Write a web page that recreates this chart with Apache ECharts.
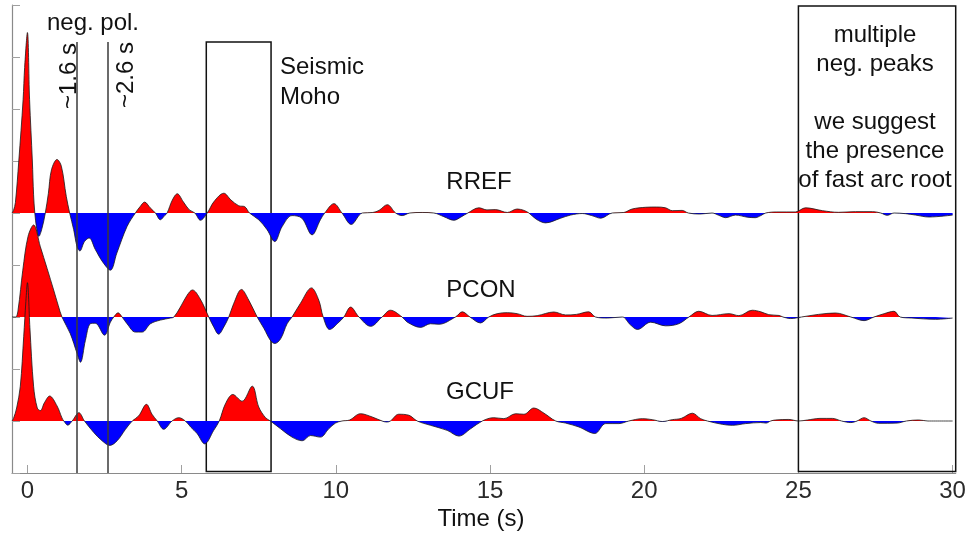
<!DOCTYPE html>
<html>
<head>
<meta charset="utf-8">
<title>Receiver functions RREF / PCON / GCUF</title>
<script src="https://cdn.jsdelivr.net/npm/echarts@6/dist/echarts.min.js"></script>
<style>
  html, body { margin: 0; padding: 0; background: #fff; }
  #chart { width: 969px; height: 535px; }
</style>
</head>
<body>
<div id="chart"></div>
<script>
// Station names, drawn top to bottom
const stations = ['RREF', 'PCON', 'GCUF'];

// Receiver function amplitudes: [time (s), amplitude]
const rref = [
  [-0.5,0],[-0.45,0.05],[-0.39,0.2],[-0.28,1.0],[-0.14,2.18],[-0.09,2.8],[0,3.47],[0.07,2.18],[0.16,1.0],[0.2,0.35],[0.24,0],
  [0.3,-0.3],[0.37,-0.45],[0.47,-0.3],[0.58,0],[0.68,0.38],[0.78,0.83],[0.96,1.03],[1.1,0.9],[1.26,0.32],[1.37,0],
  [1.5,-0.32],[1.61,-0.65],[1.7,-0.73],[1.85,-0.55],[2.0,-0.48],[2.2,-0.7],[2.45,-0.95],[2.69,-1.1],[2.9,-0.77],[3.23,-0.26],[3.5,0],
  [3.65,0.12],[3.8,0.21],[3.98,0.1],[4.15,0],[4.31,-0.13],[4.45,-0.05],[4.53,0],[4.7,0.25],[4.86,0.37],[5.05,0.22],[5.25,0.06],[5.43,0],
  [5.61,-0.14],[5.83,0],[6.05,0.22],[6.37,0.38],[6.6,0.25],[6.85,0.14],[7.05,0.12],[7.2,0],
  [7.5,-0.13],[7.77,-0.32],[8.02,-0.55],[8.26,-0.26],[8.58,-0.05],[8.9,-0.1],[9.23,-0.42],[9.5,-0.13],[9.64,0],
  [9.94,0.18],[10.2,0],[10.5,-0.22],[10.86,0],[11.2,0.01],[11.4,0.05],[11.67,0.16],[11.94,0],[12.15,-0.05],[12.4,0],[12.8,0.01],[13.18,0],
  [13.5,-0.07],[13.83,-0.14],[14.05,-0.08],[14.28,0],[14.64,0.1],[14.9,0.06],[15.18,0.065],[15.56,0.01],[15.88,0.077],[16.1,0.05],[16.26,0],
  [16.5,-0.12],[16.8,-0.19],[17.29,-0.1],[17.61,-0.04],[17.99,-0.01],[18.3,-0.05],[18.59,-0.1],[18.96,0],
  [19.34,0.01],[19.61,0.077],[20.05,0.11],[20.4,0.115],[20.69,0.1],[20.91,0.045],[21.23,0.05],[21.43,0],
  [21.8,-0.02],[22.2,0],[22.4,-0.04],[22.64,-0.09],[22.96,-0.04],[23.34,-0.08],[23.6,-0.09],[23.78,-0.05],[23.94,0],
  [24.3,0.02],[24.9,0.02],[25.23,0.1],[25.78,0.045],[26.3,0.013],[26.85,0.026],[27.4,0.026],[27.67,0],
  [27.88,-0.045],[28.1,0],[28.48,-0.013],[28.8,-0.04],[29.23,-0.077],[30.0,-0.04]
];
const pcon = [
  [-0.5,0],[-0.38,0],[-0.3,0.15],[-0.15,0.9],[0.02,1.55],[0.2,1.77],[0.42,1.35],[0.64,0.93],[0.85,0.52],[1.0,0.22],[1.12,0],
  [1.39,-0.32],[1.61,-0.7],[1.72,-0.87],[1.88,-0.45],[2.04,-0.13],[2.2,-0.12],[2.5,-0.35],[2.69,-0.1],[2.8,0],
  [2.94,0.08],[3.07,0],[3.23,-0.13],[3.5,-0.29],[3.72,-0.29],[3.99,-0.13],[4.31,-0.06],[4.64,-0.02],[4.75,0],
  [4.96,0.19],[5.18,0.42],[5.35,0.52],[5.6,0.35],[5.88,0],[6.04,-0.19],[6.2,-0.33],[6.37,-0.19],[6.53,0],
  [6.69,0.26],[6.94,0.53],[7.18,0.32],[7.45,0],[7.67,-0.22],[7.88,-0.45],[8.02,-0.51],[8.21,-0.42],[8.42,-0.13],[8.58,0],
  [8.85,0.26],[9.21,0.56],[9.45,0.32],[9.59,0],[9.8,-0.24],[10.1,-0.1],[10.26,0],[10.48,0.19],[10.75,0],[11.13,-0.18],[11.5,0],
  [11.77,0.13],[12.15,0],[12.32,-0.1],[12.75,-0.2],[13.07,-0.13],[13.34,-0.14],[13.88,0],[14.1,0.1],[14.35,0],[14.69,-0.115],[14.96,0],
  [15.23,0.064],[15.56,0.083],[15.88,0.064],[16.2,0.013],[16.53,0.026],[17.07,0.096],[17.45,0.04],[17.8,0.05],[18.2,0.1],[18.42,0],
  [18.8,-0.02],[19.29,0],[19.55,-0.15],[19.78,-0.24],[20.21,-0.1],[20.69,-0.17],[21.12,-0.13],[21.45,0],
  [21.77,0.11],[22.2,0.03],[22.75,0.064],[23.07,0.026],[23.5,0.13],[23.78,0.1],[24.04,0.045],[24.37,0.03],[24.5,0],
  [24.75,-0.03],[25.1,0],[25.65,0.05],[26.2,0.077],[26.7,0],[27.13,-0.07],[27.45,0],[27.78,0.064],[28.1,0.11],[28.3,0],
  [28.68,-0.02],[29.45,-0.045],[30.0,-0.02]
];
const gcuf = [
  [-0.5,0],[-0.45,0.05],[-0.35,0.25],[-0.23,0.67],[-0.12,1.63],[-0.05,2.3],[0,2.66],[0.08,1.8],[0.2,0.67],[0.32,0.25],[0.42,0.2],
  [0.55,0.35],[0.72,0.48],[0.96,0.29],[1.12,0.06],[1.18,0],[1.31,-0.08],[1.45,0],[1.67,0.16],[1.85,0],
  [2.15,-0.22],[2.42,-0.38],[2.67,-0.47],[2.91,-0.38],[3.18,-0.16],[3.4,0],[3.61,0.1],[3.86,0.32],[4.04,0.13],[4.21,0],
  [4.42,-0.16],[4.69,0],[4.91,0.064],[5.12,0],[5.3,-0.12],[5.5,-0.24],[5.75,-0.44],[6.04,-0.18],[6.22,0],
  [6.42,0.33],[6.66,0.51],[6.96,0.38],[7.29,0.67],[7.5,0.27],[7.72,0.064],[7.88,0],
  [8.21,-0.15],[8.58,-0.31],[8.91,-0.38],[9.18,-0.28],[9.5,-0.31],[9.77,-0.15],[9.99,-0.04],[10.2,0],
  [10.45,0.02],[10.8,0.14],[11.18,0.077],[11.5,0],[11.65,-0.02],[11.77,0],[12.04,0.13],[12.37,0.11],[12.64,0],
  [13.07,-0.083],[13.61,-0.18],[13.99,-0.29],[14.37,-0.15],[14.75,0],
  [15.12,0.064],[15.45,0.045],[15.83,0.14],[16.1,0.13],[16.42,0.25],[16.75,0.15],[17.13,0],
  [17.45,-0.04],[17.88,-0.115],[18.4,-0.24],[18.75,-0.05],[19.18,-0.05],[19.5,0],
  [19.94,0.045],[20.26,0.026],[20.59,-0.01],[20.91,0.026],[21.2,0.05],[21.56,0.15],[21.83,0.045],[22.05,0],
  [22.53,-0.064],[22.86,-0.083],[23.29,-0.05],[23.78,-0.03],[23.95,-0.04],[24.1,0],[24.26,0.02],[24.69,0.03],[25.0,0],
  [25.3,0.02],[25.7,0.05],[26.1,0.05],[26.4,0],[26.7,-0.03],[26.9,0],[27.13,0.064],[27.35,0],[27.6,-0.045],[28.2,-0.04],[28.5,0],
  [28.9,0.02],[29.2,0],[30.0,0]
];
const traces = [rref, pcon, gcuf];

// Time axis tick labels
const timeTicks = [0, 5, 10, 15, 20, 25, 30];

// Marked arrival times (s)
const polarityTimes = [1.6, 2.6];
// Highlighted windows: [start s, end s]
const mohoWindow = [5.8, 7.9];
const rootWindow = [25, 30.1];

// Vertical stacking of the traces (axis units)
const baselines = [5, 3, 1];
const Y_MAX = 9;

const RED = '#ff0000';
const BLUE = '#0000ff';
const FONT = '"Liberation Sans", Arial, sans-serif';

const chart = echarts.init(document.getElementById('chart'), null, { renderer: 'canvas' });

const traceSeries = traces.map((trace, i) => ({
  type: 'line',
  name: stations[i],
  data: trace.map(([t, a]) => [t, a + baselines[i]]),
  smooth: 0.35,
  showSymbol: false,
  silent: true,
  z: 3,
  lineStyle: { color: '#1a1a1a', width: 0.8 },
  areaStyle: { origin: baselines[i], opacity: 1 }
}));

const annotationSeries = {
  type: 'line',
  data: [],
  silent: true,
  z: 4,
  markLine: {
    silent: true,
    symbol: 'none',
    label: { show: false },
    lineStyle: { color: '#3a3a3a', type: 'solid', width: 1.5 },
    data: polarityTimes.map(t => [{ coord: [t, 0] }, { coord: [t, 8.29] }])
  },
  markArea: {
    silent: true,
    itemStyle: { color: 'rgba(0,0,0,0)', borderColor: '#111', borderWidth: 1.5 },
    data: [
      [{ coord: [mohoWindow[0], 0.03] }, { coord: [mohoWindow[1], 8.29] }],
      [{ coord: [rootWindow[0], 0.03] }, { coord: [rootWindow[1], 8.98] }]
    ]
  }
};

function txt(text, x, y, opts) {
  return Object.assign({
    type: 'text',
    x: x, y: y,
    silent: true,
    z: 10,
    style: Object.assign({
      text: text,
      fill: '#111',
      font: '24px ' + FONT,
      align: 'center',
      verticalAlign: 'middle'
    }, (opts && opts.style) || {})
  }, (opts && opts.el) || {});
}

const rootLines = ['multiple', 'neg. peaks', 'we suggest', 'the presence', 'of fast arc root'];
const rootLineY = [35, 64, 122, 151, 180];

const graphics = [
  txt('neg. pol.', 93, 23),
  txt('~1.6 s', 69, 76, { el: { rotation: Math.PI / 2 } }),
  txt('~2.6 s', 126, 75, { el: { rotation: Math.PI / 2 } }),
  txt('Seismic', 280, 67, { style: { align: 'left' } }),
  txt('Moho', 280, 97, { style: { align: 'left' } }),
  txt(stations[0], 479, 182),
  txt(stations[1], 481, 290),
  txt(stations[2], 480, 392),
  txt('Time (s)', 481, 519)
].concat(rootLines.map((s, k) => txt(s, 875, rootLineY[k])));

chart.setOption({
  animation: false,
  backgroundColor: '#ffffff',
  grid: { left: 12, right: 13.3, top: 5, bottom: 62, containLabel: false },
  xAxis: {
    type: 'value',
    min: -0.5,
    max: 30.1,
    axisLine: { show: true, onZero: false, lineStyle: { color: '#8a8a8a', width: 1.2 } },
    axisTick: { show: true, inside: true, length: 8, customValues: timeTicks, lineStyle: { color: '#a0a0a0' } },
    axisLabel: { show: true, customValues: timeTicks, margin: 6, fontSize: 24, fontFamily: FONT, color: '#2a2a2a' },
    splitLine: { show: false }
  },
  yAxis: {
    type: 'value',
    min: 0,
    max: Y_MAX,
    interval: 1,
    axisLine: { show: true, onZero: false, lineStyle: { color: '#8a8a8a', width: 1.2 } },
    axisTick: { show: true, inside: true, length: 8, lineStyle: { color: '#a0a0a0' } },
    axisLabel: { show: false },
    splitLine: { show: false }
  },
  // Red above each trace's baseline, blue below it
  visualMap: baselines.map((b, i) => ({
    type: 'piecewise',
    show: false,
    seriesIndex: i,
    dimension: 1,
    pieces: [
      { lt: b, color: BLUE },
      { gte: b, lt: Y_MAX, color: RED },
      { gte: Y_MAX, color: RED }
    ]
  })),
  series: traceSeries.concat([annotationSeries]),
  graphic: graphics
});
</script>
</body>
</html>
